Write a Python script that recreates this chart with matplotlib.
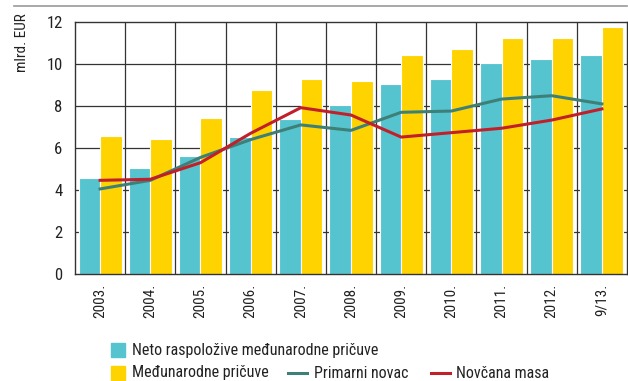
import matplotlib
matplotlib.use("Agg")
import matplotlib.pyplot as plt
from matplotlib.patches import Rectangle
from matplotlib.lines import Line2D
import numpy as np

plt.rcParams['font.family'] = ['Roboto Condensed', 'DejaVu Sans']

years = ["2003.", "2004.", "2005.", "2006.", "2007.", "2008.", "2009.",
         "2010.", "2011.", "2012.", "9/13."]
neto_pricuve = [4.56, 5.03, 5.63, 6.51, 7.37, 8.03, 9.03, 9.29, 10.03, 10.22, 10.43]
medj_pricuve = [6.57, 6.43, 7.43, 8.76, 9.29, 9.17, 10.43, 10.70, 11.22, 11.22, 11.76]
primarni_novac = [4.05, 4.46, 5.55, 6.40, 7.10, 6.84, 7.70, 7.76, 8.33, 8.49, 8.10]
novcana_masa = [4.46, 4.51, 5.30, 6.70, 7.92, 7.57, 6.52, 6.73, 6.94, 7.33, 7.86]

c_cyan = "#55C4CF"
c_yellow = "#FFD300"
c_teal = "#3E8078"
c_red = "#C1202B"
c_grid = "#333333"
c_text = "#222222"

W, H = 628, 381
fig = plt.figure(figsize=(W / 100, H / 100), dpi=100)
ax = fig.add_axes([75 / W, 1 - 274 / H, 552 / W, 252 / H])

x = np.arange(len(years))
bw = 0.43
ax.bar(x - bw / 2, neto_pricuve, width=bw, color=c_cyan, edgecolor="white",
       linewidth=0.8, zorder=2)
ax.bar(x + bw / 2, medj_pricuve, width=bw, color=c_yellow, edgecolor="white",
       linewidth=0.8, zorder=2)
ax.plot(x, primarni_novac, color=c_teal, lw=2.2, zorder=3)
ax.plot(x, novcana_masa, color=c_red, lw=2.2, zorder=4)

ax.set_xlim(-0.5, len(years) - 0.5)
ax.set_ylim(0, 12)
ax.set_yticks(range(0, 13, 2))
ax.set_xticks(x)
ax.set_xticklabels(years, rotation=90, fontsize=11, color=c_text)
ax.tick_params(axis='y', labelsize=12, length=0, pad=9, labelcolor=c_text)
ax.tick_params(axis='x', length=0, pad=7)

# grid: horizontal at every 2, vertical at category boundaries
for yv in range(2, 12, 2):
    ax.axhline(yv, color=c_grid, lw=0.9, zorder=1)
for xv in np.arange(0.5, len(years) - 0.5, 1):
    ax.axvline(xv, color=c_grid, lw=0.9, zorder=1)
for s in ax.spines.values():
    s.set_color(c_grid)
    s.set_linewidth(1.0)

fig.text(22 / W, 1 - 43 / H, "mlrd. EUR", rotation=90, ha="center", va="center",
         fontsize=11, color=c_text)

# top rule
fig.add_artist(Line2D([14 / W, 627 / W], [1 - 6 / H, 1 - 6 / H], color="#999999",
                      lw=1.2, transform=fig.transFigure))

# legend
def patch(xp, yp, color):
    fig.add_artist(Rectangle((xp / W, 1 - (yp + 7) / H), 14 / W, 14 / H,
                             color=color, transform=fig.transFigure))

def line(xp, yp, color):
    fig.add_artist(Line2D([xp / W, (xp + 19) / W], [1 - yp / H, 1 - yp / H],
                          color=color, lw=2.2, transform=fig.transFigure))

def label(xp, yp, txt):
    fig.text(xp / W, 1 - yp / H, txt, ha="left", va="center", fontsize=11.5,
             color=c_text)

patch(111, 350, c_cyan)
label(132, 350, "Neto raspoložive međunarodne pričuve")
patch(111, 373, c_yellow)
label(132, 373, "Međunarodne pričuve")
line(288, 373, c_teal)
label(314, 373, "Primarni novac")
line(431, 373, c_red)
label(456, 373, "Novčana masa")

fig.savefig("out.png", dpi=100)
